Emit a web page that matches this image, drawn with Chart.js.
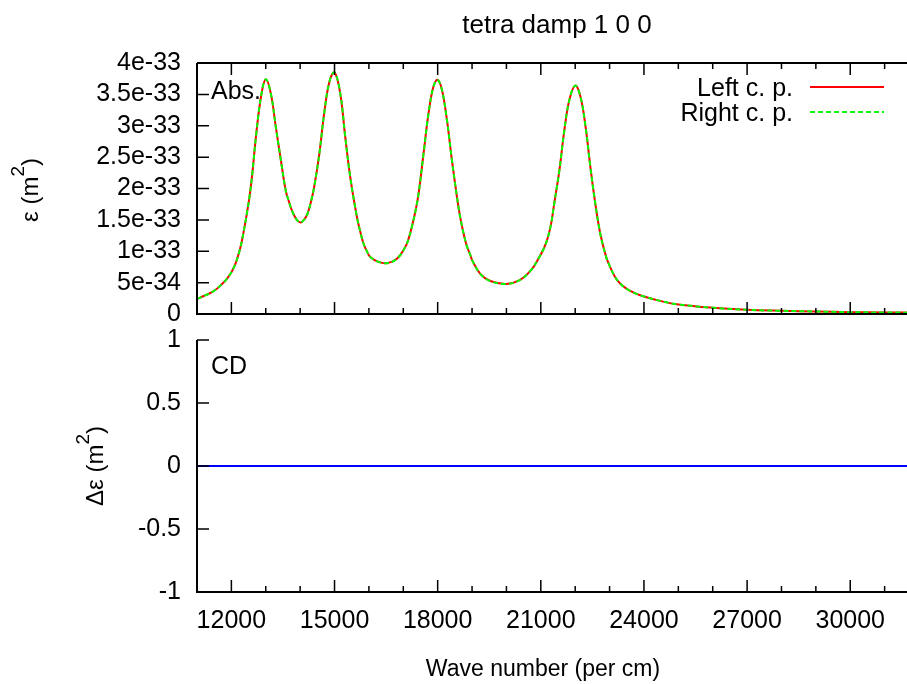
<!DOCTYPE html>
<html>
<head>
<meta charset="utf-8">
<script src="https://cdn.jsdelivr.net/npm/chart.js@4.4.0/dist/chart.umd.min.js"></script>
<style>
  html, body { margin: 0; padding: 0; background: #fff; overflow: hidden; }
  #wrap { position: relative; width: 907px; height: 684px; overflow: hidden; }
  canvas { position: absolute; left: 0; top: 0; }
</style>
</head>
<body>
<div id="wrap">
  <canvas id="absChart" width="920" height="684"></canvas>
  <canvas id="cdChart" width="920" height="684"></canvas>
</div>
<script>
// wave number (per cm)
var waveNumber = [11000, 11250, 11500, 11750, 11875, 12000, 12060, 12125, 12250, 12350,
  12450, 12525, 12600, 12725, 12870, 13000, 13145, 13290, 13440, 13580,
  13680, 13775, 13880, 14000, 14110, 14215, 14320, 14410, 14560, 14700,
  14855, 15000, 15165, 15310, 15455, 15650, 15750, 15845, 15950, 16040,
  16280, 16525, 16815, 17060, 17160, 17250, 17350, 17445, 17590, 17735,
  17880, 18000, 18125, 18270, 18415, 18560, 18650, 18755, 18850, 18950,
  19000, 19240, 19530, 20000, 20370, 20710, 20950, 21100, 21200, 21300,
  21390, 21540, 21685, 21830, 22000, 22150, 22300, 22440, 22585, 22730,
  22900, 23000, 23160, 23300, 23500, 23750, 24000, 24500, 25000, 26000,
  27000, 28000, 29000, 30000, 31000, 32000];

// absorption, left circular polarisation (m^2)
var absLeft = [0.24e-33, 0.30e-33, 0.37e-33, 0.49e-33, 0.565e-33, 0.665e-33, 0.73e-33, 0.81e-33, 1.03e-33, 1.29e-33,
  1.60e-33, 1.86e-33, 2.19e-33, 2.88e-33, 3.49e-33, 3.74e-33, 3.52e-33, 2.99e-33, 2.45e-33, 1.97e-33,
  1.78e-33, 1.63e-33, 1.52e-33, 1.46e-33, 1.50e-33, 1.60e-33, 1.80e-33, 2.03e-33, 2.56e-33, 3.20e-33,
  3.71e-33, 3.85e-33, 3.52e-33, 2.83e-33, 2.19e-33, 1.55e-33, 1.31e-33, 1.12e-33, 0.99e-33, 0.91e-33,
  0.83e-33, 0.81e-33, 0.88e-33, 1.07e-33, 1.21e-33, 1.39e-33, 1.63e-33, 1.92e-33, 2.56e-33, 3.20e-33,
  3.63e-33, 3.73e-33, 3.57e-33, 3.09e-33, 2.45e-33, 1.87e-33, 1.56e-33, 1.28e-33, 1.08e-33, 0.94e-33,
  0.86e-33, 0.64e-33, 0.525e-33, 0.48e-33, 0.535e-33, 0.695e-33, 0.90e-33, 1.06e-33, 1.21e-33, 1.44e-33,
  1.76e-33, 2.29e-33, 2.93e-33, 3.41e-33, 3.64e-33, 3.47e-33, 2.99e-33, 2.35e-33, 1.76e-33, 1.28e-33,
  0.91e-33, 0.77e-33, 0.59e-33, 0.49e-33, 0.40e-33, 0.33e-33, 0.28e-33, 0.205e-33, 0.152e-33, 0.099e-33,
  0.067e-33, 0.051e-33, 0.040e-33, 0.029e-33, 0.024e-33, 0.020e-33];

// right circular polarisation lies exactly on top of the left one
var absRight = absLeft.slice();

// CD is flat zero
var cdWave = [11000, 32000];
var cdDelta = [0, 0];

var xTicks = [12000, 15000, 18000, 21000, 24000, 27000, 30000];
var absTicks = [0, 0.5e-33, 1e-33, 1.5e-33, 2e-33, 2.5e-33, 3e-33, 3.5e-33, 4e-33];
var absTickLabels = ['0', '5e-34', '1e-33', '1.5e-33', '2e-33', '2.5e-33', '3e-33', '3.5e-33', '4e-33'];
var cdTicks = [-1, -0.5, 0, 0.5, 1];

var FAMILY = "'Liberation Sans', Arial, Helvetica, sans-serif";
var tickFont = { family: FAMILY, size: 25 };

function pts(xs, ys) {
  return xs.map(function (v, i) { return { x: v, y: ys[i] }; });
}

function unitTitle(ctx, pre, cy, baseX) {
  ctx.save();
  ctx.translate(baseX, cy);
  ctx.rotate(-Math.PI / 2);
  ctx.textAlign = 'left';
  ctx.textBaseline = 'alphabetic';
  ctx.font = '24px ' + FAMILY;
  var w1 = ctx.measureText(pre + ' (m').width;
  var w3 = ctx.measureText(')').width;
  ctx.font = '19px ' + FAMILY;
  var w2 = ctx.measureText('2').width;
  var x0 = -(w1 + w2 + w3) / 2;
  ctx.font = '24px ' + FAMILY;
  ctx.fillText(pre + ' (m', x0, 0);
  ctx.font = '19px ' + FAMILY;
  ctx.fillText('2', x0 + w1, -14);
  ctx.font = '24px ' + FAMILY;
  ctx.fillText(')', x0 + w1 + w2, 0);
  ctx.restore();
}

// gnuplot-like frame: border, inward ticks, labels, key
var frame = {
  id: 'frame',
  afterDatasetsDraw: function (chart, args, o) {
    var ctx = chart.ctx, a = chart.chartArea;
    var sx = chart.scales.x, sy = chart.scales.y;
    ctx.save();
    ctx.strokeStyle = '#000';
    ctx.lineWidth = 2;
    ctx.beginPath();
    if (o.top) { ctx.moveTo(a.left, a.top); ctx.lineTo(a.right, a.top); }
    ctx.moveTo(a.left, a.top);
    ctx.lineTo(a.left, a.bottom);
    ctx.lineTo(a.right, a.bottom);
    ctx.lineTo(a.right, a.top);
    ctx.stroke();

    ctx.lineWidth = 1.5;
    ctx.beginPath();
    function xt(v, len) {
      var px = sx.getPixelForValue(v);
      ctx.moveTo(px, a.bottom); ctx.lineTo(px, a.bottom - len);
      if (o.top) { ctx.moveTo(px, a.top); ctx.lineTo(px, a.top + len); }
    }
    for (var v = 11000; v <= 32000; v += 1000) xt(v, xTicks.indexOf(v) >= 0 ? 12 : 6);
    o.yTicks.forEach(function (t) {
      var py = sy.getPixelForValue(t);
      ctx.moveTo(a.left, py); ctx.lineTo(a.left + 12, py);
      ctx.moveTo(a.right, py); ctx.lineTo(a.right - 12, py);
    });
    ctx.stroke();

    ctx.fillStyle = '#000';
    ctx.textBaseline = 'alphabetic';
    (o.texts || []).forEach(function (t) {
      ctx.font = (t.size || 24) + 'px ' + FAMILY;
      ctx.textAlign = t.align || 'left';
      ctx.fillText(t.text, t.x, t.y);
    });
    (o.units || []).forEach(function (u) { unitTitle(ctx, u.pre, u.cy, u.x); });

    if (o.key) {
      ctx.font = '25px ' + FAMILY;
      chart.data.datasets.forEach(function (ds, i) {
        var yb = o.key.y + i * o.key.dy;
        ctx.textAlign = 'right';
        ctx.fillStyle = '#000';
        ctx.fillText(ds.label, o.key.x, yb);
        ctx.strokeStyle = ds.borderColor;
        ctx.lineWidth = ds.borderWidth;
        ctx.setLineDash(ds.borderDash || []);
        ctx.beginPath();
        ctx.moveTo(o.key.x0, yb - 9);
        ctx.lineTo(o.key.x1, yb - 9);
        ctx.stroke();
        ctx.setLineDash([]);
      });
    }
    ctx.restore();
  }
};

var absChart = new Chart(document.getElementById('absChart').getContext('2d'), {
  type: 'line',
  data: {
    datasets: [{
      label: 'Left c. p.',
      data: pts(waveNumber, absLeft),
      borderColor: '#ff0000',
      borderWidth: 2,
      pointRadius: 0,
      tension: 0.4,
      order: 2
    }, {
      label: 'Right c. p.',
      data: pts(waveNumber, absRight),
      borderColor: '#00ff00',
      borderWidth: 2,
      borderDash: [5, 3],
      pointRadius: 0,
      tension: 0.4,
      order: 1
    }]
  },
  options: {
    responsive: false,
    animation: false,
    devicePixelRatio: 1,
    layout: { padding: { top: 63, bottom: 370, left: 0, right: 1 } },
    scales: {
      x: { type: 'linear', min: 11000, max: 32000, display: false },
      y: {
        min: 0, max: 4e-33,
        afterBuildTicks: function (s) { s.ticks = absTicks.map(function (v) { return { value: v }; }); },
        afterFit: function (s) { s.width = 197; s.paddingTop = 0; s.paddingBottom = 0; },
        grid: { display: false, drawTicks: false },
        border: { display: false },
        ticks: {
          font: tickFont, color: '#000', padding: 16, autoSkip: false,
          callback: function (v, i) { return absTickLabels[i]; }
        }
      }
    },
    plugins: {
      legend: { display: false },
      tooltip: { enabled: false },
      frame: {
        top: true,
        yTicks: absTicks,
        texts: [
          { text: 'tetra damp 1 0 0', x: 557, y: 33, align: 'center', size: 26 },
          { text: 'Abs.', x: 211, y: 99, size: 25 }
        ],
        units: [{ pre: 'ε', cy: 190, x: 38 }],
        key: { x: 793, y: 96, dy: 25, x0: 810, x1: 884 }
      }
    }
  },
  plugins: [frame]
});

var cdChart = new Chart(document.getElementById('cdChart').getContext('2d'), {
  type: 'line',
  data: {
    datasets: [{
      label: 'CD',
      data: pts(cdWave, cdDelta),
      borderColor: '#0000ff',
      borderWidth: 2,
      pointRadius: 0
    }]
  },
  options: {
    responsive: false,
    animation: false,
    devicePixelRatio: 1,
    layout: { padding: { top: 340, bottom: 0, left: 0, right: 1 } },
    scales: {
      x: {
        type: 'linear', min: 11000, max: 32000,
        afterBuildTicks: function (s) { s.ticks = xTicks.map(function (v) { return { value: v }; }); },
        afterFit: function (s) { s.height = 92; s.paddingLeft = 0; s.paddingRight = 0; },
        grid: { display: false, drawTicks: false },
        border: { display: false },
        ticks: {
          font: tickFont, color: '#000', padding: 14, maxRotation: 0, autoSkip: false,
          callback: function (v) { return String(v); }
        }
      },
      y: {
        min: -1, max: 1,
        afterBuildTicks: function (s) { s.ticks = cdTicks.map(function (v) { return { value: v }; }); },
        afterFit: function (s) { s.width = 197; s.paddingTop = 0; s.paddingBottom = 0; },
        grid: { display: false, drawTicks: false },
        border: { display: false },
        ticks: {
          font: tickFont, color: '#000', padding: 16, autoSkip: false,
          callback: function (v) { return String(v); }
        }
      }
    },
    plugins: {
      legend: { display: false },
      tooltip: { enabled: false },
      frame: {
        top: false,
        yTicks: cdTicks,
        texts: [
          { text: 'CD', x: 211, y: 374, size: 25 },
          { text: 'Wave number (per cm)', x: 543, y: 676, align: 'center', size: 23 }
        ],
        units: [{ pre: 'Δε', cy: 466, x: 103 }]
      }
    }
  },
  plugins: [frame]
});
</script>
</body>
</html>
